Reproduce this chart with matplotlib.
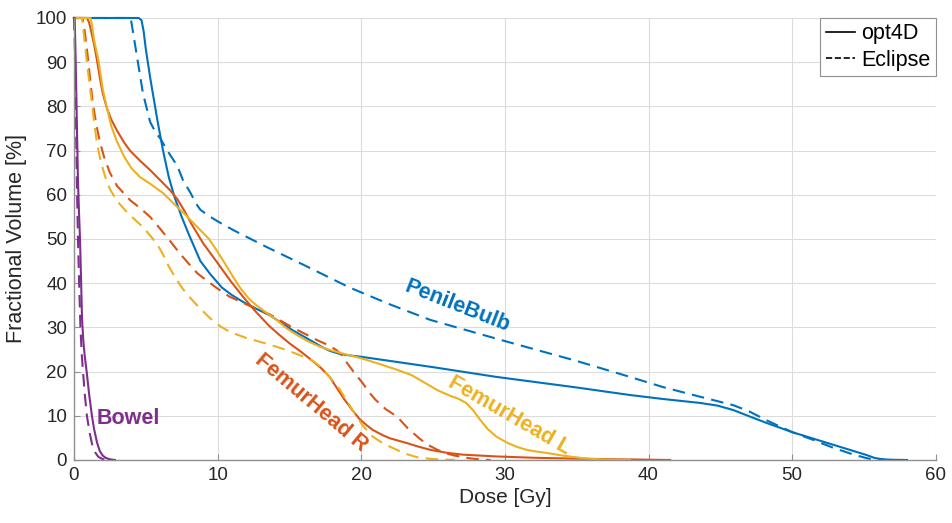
import matplotlib.pyplot as plt

# Colores por defecto de MATLAB
azul = '#0072BD'
naranja = '#D95319'
amarillo = '#EDB120'
morado = '#7E2F8E'

# PenileBulb
penile_opt_dosis = [0, 4.5, 4.7, 4.85, 5.0, 5.3, 5.8, 6.2, 6.6, 7.0, 7.5, 8.0, 8.8, 9.5, 10.3, 11.0,
                    11.8, 12.7, 13.6, 14.4, 15.2, 16.5, 17.3, 17.8, 18.5, 19.3, 20.1, 25.0, 29.4,
                    35.0, 38.7, 41.0, 43.6, 44.8, 45.9, 47.0, 48.2, 50.0, 51.5, 52.9, 54.2, 55.2,
                    55.7, 56.1, 56.6, 57.3, 58.0]
penile_opt_vol = [100, 100, 99.5, 97, 93, 86.6, 77, 70, 64, 59.5, 55, 51, 45, 42, 39, 37.3,
                  35.7, 34.2, 32.8, 31.1, 29.4, 27, 25.5, 24.7, 24.0, 23.6, 23.3, 21, 18.8,
                  16.4, 14.7, 13.8, 12.9, 12.3, 11.3, 9.9, 8.4, 6.3, 4.8, 3.4, 2.1, 1.1,
                  0.5, 0.25, 0.1, 0.03, 0]
penile_ecl_dosis = [0, 3.95, 4.3, 4.8, 5.3, 5.7, 6.0, 6.5, 7.2, 7.6, 8.1, 8.5, 8.8, 9.4, 10.0, 11.1,
                    13.4, 15.7, 19.2, 22.0, 24.8, 30.0, 35.0, 38.7, 41.0, 43.6, 45.9, 47.0, 48.2,
                    50.0, 51.5, 52.9, 54.2, 55.2, 55.7, 56.1]
penile_ecl_vol = [100, 100, 93, 83, 76.5, 74, 72.8, 70, 66.5, 63.2, 60.5, 58, 56.6, 55.2, 54, 52,
                  48.2, 44.6, 39, 35.2, 31.7, 26.9, 22.4, 18.8, 16.5, 14.3, 12.4, 11, 9,
                  6.3, 4.5, 2.7, 1.3, 0.4, 0.1, 0]

# FemurHead R
femur_r_opt_dosis = [0, 0.9, 1.05, 1.2, 1.4, 1.6, 1.8, 2.0, 2.3, 2.6, 3.0, 3.5, 3.9, 4.6, 5.3, 6.0,
                     6.7, 7.2, 7.7, 8.2, 9.0, 9.9, 10.9, 11.8, 12.7, 13.6, 14.3, 15.0, 15.8, 16.5,
                     17.2, 17.8, 18.3, 18.8, 19.4, 19.9, 20.4, 20.8, 21.5, 22.0, 23.2, 24.0, 24.8,
                     26.0, 27.1, 29.4, 32.0, 35.0, 38.0, 41.5]
femur_r_opt_vol = [100, 100, 99, 97, 94, 90.5, 86.5, 83, 79.5, 77, 74.5, 71.8, 70, 67.7, 65.6, 63.3,
                   61, 59, 56.3, 53.3, 49, 45, 40.5, 36.8, 33.4, 30.3, 28.3, 26.4, 24.5, 22.7,
                   20.8, 18.8, 16.3, 13.8, 11.2, 9.2, 7.8, 6.8, 5.6, 4.9, 3.8, 3.0, 2.3,
                   1.6, 1.2, 0.8, 0.5, 0.3, 0.15, 0]
femur_r_ecl_dosis = [0, 0.6, 0.75, 0.9, 1.0, 1.15, 1.3, 1.55, 1.8, 2.1, 2.5, 3.0, 3.9, 4.6, 5.3, 6.0,
                     6.7, 7.4, 8.1, 8.6, 9.2, 9.9, 10.8, 11.8, 12.7, 13.6, 14.4, 15.2, 16.1, 17.0,
                     17.7, 18.3, 18.7, 19.0, 19.5, 20.1, 20.5, 21.0, 21.7, 22.5, 23.2, 24.0, 24.6,
                     25.3, 25.9, 26.5, 27.5, 28.2, 29.0]
femur_r_ecl_vol = [100, 100, 97, 93, 90, 85.5, 81, 76, 72, 68.5, 65, 62, 58.8, 57, 55, 52.3,
                   49.5, 46.6, 44, 42.2, 40.7, 39, 37, 35.5, 34.2, 33, 31.5, 30, 28.5, 27,
                   26, 24.8, 23.5, 22, 19.8, 17.4, 15.5, 13.6, 11.5, 9.8, 7.3, 5, 3.5,
                   2.3, 1.5, 1, 0.4, 0.15, 0]

# FemurHead L
femur_l_opt_dosis = [0, 1.15, 1.25, 1.4, 1.7, 2.0, 2.2, 2.6, 3.0, 3.5, 4.0, 4.6, 5.3, 6.2, 7.2, 7.6,
                     8.2, 8.8, 9.4, 9.9, 10.5, 11.1, 11.6, 12.2, 12.7, 13.2, 14.1, 14.8, 15.5, 16.2,
                     17.0, 17.8, 18.7, 19.4, 20.0, 21.0, 22.5, 23.5, 24.3, 25.3, 26.2, 26.8, 27.3,
                     27.8, 28.3, 28.8, 29.4, 30.1, 30.8, 31.5, 32.2, 32.9, 34.0, 35.2, 36.0, 37.0,
                     38.7]
femur_l_opt_vol = [100, 100, 98.5, 95, 90.5, 84, 81, 75.5, 72, 68.6, 66, 64, 62.5, 60.4, 57.2, 56,
                   54, 52, 50, 47.6, 44.5, 41.3, 38.8, 36.4, 35, 33.8, 31.7, 29.8, 28.3, 27,
                   25.8, 24.9, 24.1, 23.5, 23, 22, 20.4, 19.2, 17.7, 15.8, 14.5, 13.8, 12.9,
                   11.2, 9, 7, 5.3, 4.0, 3.0, 2.3, 1.9, 1.6, 1.0, 0.5, 0.25, 0.1,
                   0]
femur_l_ecl_dosis = [0, 0.55, 0.7, 0.9, 1.05, 1.25, 1.4, 1.6, 1.8, 2.0, 2.25, 2.5, 3.0, 3.7, 4.3, 4.8,
                     5.3, 5.8, 6.2, 6.6, 7.1, 7.6, 8.2, 8.8, 9.5, 10.2, 10.9, 12.0, 13.2, 14.5,
                     15.5, 16.6, 17.2, 17.8, 18.5, 19.3, 20.1, 20.8, 21.4, 22.0, 23.0, 23.9, 25.0,
                     26.5]
femur_l_ecl_vol = [100, 100, 96, 90, 86, 80.7, 76.5, 71.7, 68.5, 66, 63.3, 61.3, 58.6, 56, 54.2, 52.7,
                   50.8, 48.8, 46.5, 43.8, 41, 38.6, 36.3, 34.2, 32, 30.2, 28.9, 27.6, 26.5, 25.2,
                   24, 22.5, 21, 18.8, 16, 11.8, 7.8, 5.3, 4.0, 3.0, 1.5, 0.6, 0.2,
                   0]

# Bowel
bowel_opt_dosis = [0, 0.05, 0.1, 0.15, 0.22, 0.28, 0.35, 0.42, 0.5, 0.56, 0.65, 0.75, 0.9, 1.05,
                   1.25, 1.4, 1.6, 1.8, 2.0, 2.2, 2.4, 2.6, 2.85]
bowel_opt_vol = [100, 100, 93, 85, 73, 63, 56, 50, 40, 32, 27, 23.5, 19.5, 15,
                 10, 7, 4, 2, 1.0, 0.5, 0.25, 0.1, 0]
bowel_ecl_dosis = [0, 0.05, 0.1, 0.2, 0.28, 0.36, 0.45, 0.55, 0.63, 0.75, 0.9, 1.1, 1.3, 1.5,
                   1.7, 2.0, 2.3]
bowel_ecl_vol = [100, 95, 85, 63, 50, 40, 30, 23.5, 20, 15, 10, 6, 3, 1.6,
                 0.7, 0.2, 0]

curvas = [
    (penile_opt_dosis, penile_opt_vol, azul, '-'),
    (penile_ecl_dosis, penile_ecl_vol, azul, '--'),
    (femur_r_opt_dosis, femur_r_opt_vol, naranja, '-'),
    (femur_r_ecl_dosis, femur_r_ecl_vol, naranja, '--'),
    (femur_l_opt_dosis, femur_l_opt_vol, amarillo, '-'),
    (femur_l_ecl_dosis, femur_l_ecl_vol, amarillo, '--'),
    (bowel_opt_dosis, bowel_opt_vol, morado, '-'),
    (bowel_ecl_dosis, bowel_ecl_vol, morado, '--'),
]

# Etiquetas de estructuras: texto, x, y, rotacion, color
etiquetas = [
    ('PenileBulb', 26.7, 34.8, -21.5, azul),
    ('FemurHead R', 16.5, 12.9, -40, naranja),
    ('FemurHead L', 30.3, 10.0, -30, amarillo),
    ('Bowel', 3.8, 9.3, 0, morado),
]

plt.rcParams['font.family'] = ['Liberation Sans', 'DejaVu Sans']

fig = plt.figure(figsize=(9.52, 5.23), dpi=100)
ax = fig.add_axes([0.0777, 0.1205, 0.9053, 0.8451])

for dosis, vol, color, estilo in curvas:
    linea, = ax.plot(dosis, vol, color=color, linestyle=estilo, linewidth=1.5, clip_on=False,
                     solid_joinstyle='round')
    if estilo == '--':
        linea.set_dashes((6, 3.5))

for texto, x, y, rot, color in etiquetas:
    ax.text(x, y, texto, color=color, rotation=rot, fontsize=15.5, fontweight='bold',
            ha='center', va='center', rotation_mode='anchor')

ax.set_xlim(0, 60)
ax.set_ylim(0, 100)
ax.set_xticks(range(0, 61, 10))
ax.set_yticks(range(0, 101, 10))
ax.grid(True, color='#dcdcdc', linewidth=0.8)
ax.set_axisbelow(True)
for lado in ['top', 'right']:
    ax.spines[lado].set_visible(False)
for lado in ['left', 'bottom']:
    ax.spines[lado].set_color('#909090')
    ax.spines[lado].set_linewidth(1.0)
ax.tick_params(direction='in', length=4, color='#909090', labelsize=13.5, labelcolor='#262626', pad=5)
ax.set_xlabel('Dose [Gy]', fontsize=15, color='#262626', labelpad=3)
ax.set_ylabel('Fractional Volume [%]', fontsize=15.5, color='#262626', labelpad=6)

# Leyenda solo con estilo de linea (negro)
h1, = ax.plot([], [], color='black', linestyle='-', linewidth=1.2, label='opt4D')
h2, = ax.plot([], [], color='black', linestyle='--', linewidth=1.2, label='Eclipse')
ley = ax.legend(handles=[h1, h2], loc='upper right', bbox_to_anchor=(1.0, 1.0),
                borderaxespad=0, fontsize=15.5, fancybox=False, framealpha=1,
                handlelength=1.35, handletextpad=0.3, borderpad=0.25, labelspacing=0.25)
ley.get_frame().set_edgecolor('#909090')
ley.get_frame().set_linewidth(0.8)

fig.savefig('out.png', dpi=100)
